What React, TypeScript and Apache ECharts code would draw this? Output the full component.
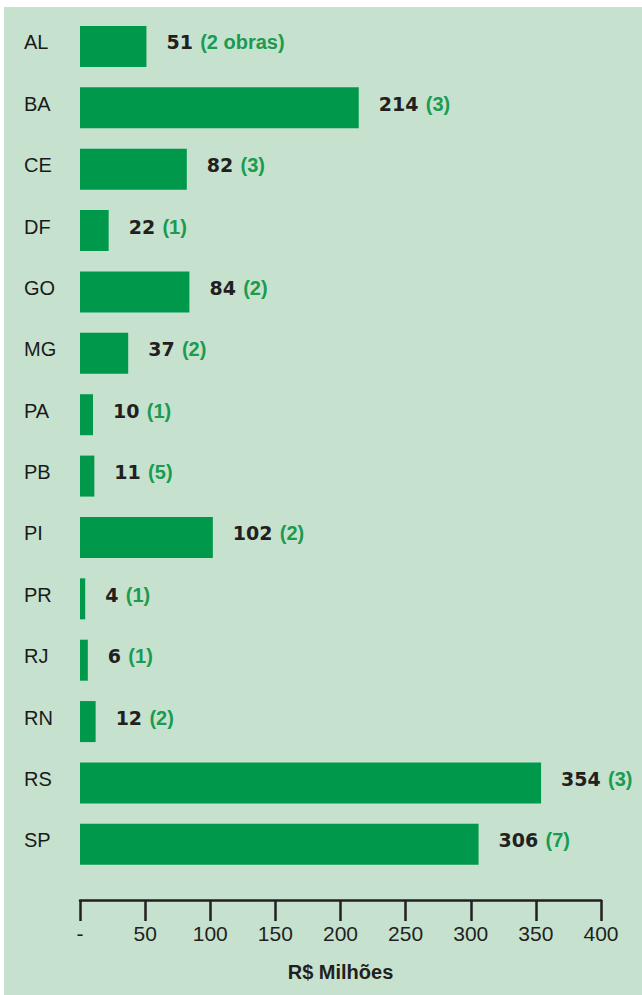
import React, { useEffect, useRef } from "react";
import * as echarts from "echarts";

const states = ["AL", "BA", "CE", "DF", "GO", "MG", "PA", "PB", "PI", "PR", "RJ", "RN", "RS", "SP"];
const values = [51, 214, 82, 22, 84, 37, 10, 11, 102, 4, 6, 12, 354, 306];
const works = ["2 obras", "3", "3", "1", "2", "2", "1", "5", "2", "1", "1", "2", "3", "7"];
const tickMin = 0;
const tickMax = 400;
const tickStep = 50;
const axisTitle = "R$ Milhões";

export default function App() {
  const ref = useRef<HTMLDivElement>(null);
  useEffect(() => {
    if (!ref.current) return;
    const chart = echarts.init(ref.current, null, { renderer: "svg" });
    chart.setOption({
      animation: false,
      backgroundColor: "#c6e2cf",
      grid: { left: 76, right: 41, top: 8.8, bottom: 120, containLabel: false },
      xAxis: {
        type: "value",
        min: tickMin,
        max: tickMax,
        interval: tickStep,
        position: "bottom",
        offset: 25,
        axisLine: { show: true, lineStyle: { color: "#231f20", width: 2.5 } },
        axisTick: { show: true, length: 21, lineStyle: { color: "#231f20", width: 2.5 } },
        splitLine: { show: false },
        axisLabel: {
          margin: 23,
          color: "#231f20",
          fontFamily: "Liberation Sans, Arial, sans-serif",
          fontSize: 21,
          formatter: (v: number) => (v === 0 ? "-" : String(v)),
        },
        name: axisTitle,
        nameLocation: "middle",
        nameGap: 62,
        nameTextStyle: {
          color: "#231f20",
          fontFamily: "Liberation Sans, Arial, sans-serif",
          fontSize: 20,
          fontWeight: "bold",
        },
      },
      yAxis: {
        type: "category",
        data: states,
        inverse: true,
        axisLine: { show: false },
        axisTick: { show: false },
        axisLabel: {
          align: "left",
          verticalAlign: "bottom",
          lineHeight: 8,
          margin: 56,
          color: "#1a1a1a",
          fontFamily: "Liberation Sans, Arial, sans-serif",
          fontSize: 20,
        },
      },
      series: [
        {
          type: "bar",
          data: values,
          barWidth: 41,
          itemStyle: { color: "#00984a" },
          label: {
            show: true,
            position: "right",
            distance: 20,
            offset: [0, -4],
            formatter: (p: any) => `{v|${p.value}} {c|(${works[p.dataIndex]})}`,
            rich: {
              v: {
                fontFamily: "DejaVu Sans, sans-serif",
                fontWeight: "bold",
                fontSize: 19,
                color: "#231f20",
              },
              c: {
                fontFamily: "Liberation Sans, Arial, sans-serif",
                fontWeight: "bold",
                fontSize: 20,
                color: "#1a9b50",
                padding: [0, 0, 0, 4],
              },
            },
          },
        },
      ],
    });
    return () => chart.dispose();
  }, []);
  return (
    <div style={{ position: "absolute", left: 0, top: 0, width: 642, height: 995, background: "#ffffff" }}>
      <div ref={ref} style={{ position: "absolute", left: 4, top: 7, width: 638, height: 988 }} />
    </div>
  );
}
